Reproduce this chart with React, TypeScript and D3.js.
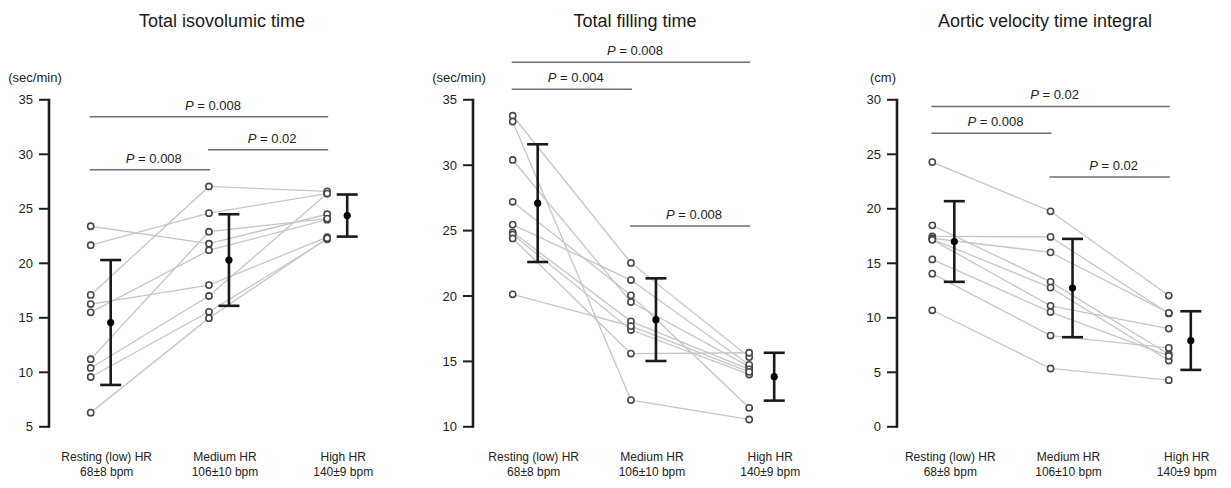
import React from "react";
import * as d3 from "d3";

// ---------- data ----------
const categories = ["Resting (low) HR", "Medium HR", "High HR"];
const categorySub = ["68±8 bpm", "106±10 bpm", "140±9 bpm"];

const panelTitles = ["Total isovolumic time", "Total filling time", "Aortic velocity time integral"];
const panelUnits = ["(sec/min)", "(sec/min)", "(cm)"];
const panelTicks = [
  [5, 10, 15, 20, 25, 30, 35],
  [10, 15, 20, 25, 30, 35],
  [0, 5, 10, 15, 20, 25, 30],
];
const panelDomains: [number, number][] = [[5, 35], [10, 35], [0, 30]];

// Total isovolumic time (per subject, resting / medium / high)
const isoResting = [23.4, 21.66, 17.1, 16.26, 15.5, 11.2, 10.4, 9.57, 6.3];
const isoMedium = [21.8, 24.6, 27.05, 18.0, 21.2, 22.9, 17.0, 15.55, 14.97];
const isoHigh = [24.5, 26.4, 26.6, 22.4, 24.0, 24.1, 26.4, 22.2, 22.3];
const isoMean = [14.57, 20.3, 24.38];
const isoSD = [5.73, 4.2, 1.93];

// Total filling time
const fillResting = [33.78, 33.34, 30.4, 27.2, 25.46, 24.87, 24.7, 24.4, 20.13];
const fillMedium = [22.53, 12.04, 19.54, 20.05, 21.22, 18.06, 17.4, 15.6, 17.7];
const fillHigh = [15.33, 10.56, 14.6, 11.45, 14.74, 14.39, 14.0, 15.66, 14.2];
const fillMean = [27.1, 18.19, 13.83];
const fillSD = [4.5, 3.16, 1.83];

// Aortic velocity time integral
const vtiResting = [24.29, 18.48, 17.47, 17.3, 17.2, 17.15, 15.36, 14.05, 10.69];
const vtiMedium = [19.77, 13.3, 17.42, 16.0, 12.77, 11.1, 10.53, 8.37, 5.35];
const vtiHigh = [12.04, 6.66, 10.4, 10.45, 6.08, 9.01, 6.5, 7.24, 4.28];
const vtiMean = [17.0, 12.73, 7.91];
const vtiSD = [3.7, 4.51, 2.69];

// significance brackets: [from group, to group, p label, level in data units]
const isoBrackets: [number, number, string, number][] = [
  [0, 2, "0.008", 33.44],
  [1, 2, "0.02", 30.41],
  [0, 1, "0.008", 28.58],
];
const fillBrackets: [number, number, string, number][] = [
  [0, 2, "0.008", 37.88],
  [0, 1, "0.004", 35.8],
  [1, 2, "0.008", 25.36],
];
const vtiBrackets: [number, number, string, number][] = [
  [0, 2, "0.02", 29.39],
  [0, 1, "0.008", 26.94],
  [1, 2, "0.02", 22.91],
];

const panelSeries = [
  [isoResting, isoMedium, isoHigh],
  [fillResting, fillMedium, fillHigh],
  [vtiResting, vtiMedium, vtiHigh],
];
const panelMeans = [isoMean, fillMean, vtiMean];
const panelSDs = [isoSD, fillSD, vtiSD];
const panelBrackets = [isoBrackets, fillBrackets, vtiBrackets];

// ---------- layout ----------
const W = 1231;
const H = 488;
const layout = [
  { axisX: 49, g0: 90.7, meanOff: 20, titleX: 222 },
  { axisX: 473, g0: 512.7, meanOff: 25, titleX: 635 },
  { axisX: 897, g0: 932.3, meanOff: 22, titleX: 1045 },
];
const groupSpan = 236.5;
const yTop = 99.8;
const yBottom = 426.8;
const FONT = "'Liberation Sans', Arial, Helvetica, sans-serif";

function Panel({ idx }: { idx: number }) {
  const L = layout[idx];
  const y = d3.scaleLinear().domain(panelDomains[idx]).range([yBottom, yTop]);
  const x = d3
    .scalePoint<number>()
    .domain([0, 1, 2])
    .range([L.g0, L.g0 + groupSpan]);
  const series = panelSeries[idx];
  const means = panelMeans[idx];
  const sds = panelSDs[idx];
  const nSub = series[0].length;
  const lineGen = d3
    .line<[number, number]>()
    .x((d) => d[0])
    .y((d) => d[1]);

  const subjects = d3.range(nSub).map((s) =>
    [0, 1, 2].map((g) => [x(g) as number, y(series[g][s])] as [number, number])
  );

  return (
    <g>
      {/* title */}
      <text x={L.titleX} y={27} textAnchor="middle" fontSize={18} fill="#1a1a1a" fontFamily={FONT}>
        {panelTitles[idx]}
      </text>
      {/* unit */}
      <text x={L.axisX - 14} y={82} textAnchor="middle" fontSize={13} fill="#222" fontFamily={FONT}>
        {panelUnits[idx]}
      </text>
      {/* axis */}
      <line x1={L.axisX} x2={L.axisX} y1={y(panelDomains[idx][1]) - 1} y2={y(panelDomains[idx][0]) + 1} stroke="#1e1e1e" strokeWidth={2.6} />
      {panelTicks[idx].map((t) => (
        <g key={t}>
          <line x1={L.axisX - 10} x2={L.axisX} y1={y(t)} y2={y(t)} stroke="#1e1e1e" strokeWidth={2} />
          <text x={L.axisX - 16} y={y(t) + 4.5} textAnchor="end" fontSize={13} fill="#222" fontFamily={FONT}>
            {t}
          </text>
        </g>
      ))}
      {/* subject lines */}
      {subjects.map((pts, i) => (
        <path key={i} d={lineGen(pts) || ""} fill="none" stroke="#c6c6c6" strokeWidth={1.3} />
      ))}
      {/* points */}
      {subjects.map((pts, i) =>
        pts.map((p, g) => (
          <circle key={i + "-" + g} cx={p[0]} cy={p[1]} r={3.1} fill="#fff" stroke="#474747" strokeWidth={1.6} />
        ))
      )}
      {/* mean ± SD */}
      {means.map((m, g) => {
        const cx = (x(g) as number) + L.meanOff;
        const yt = y(m + sds[g]);
        const yb = y(m - sds[g]);
        return (
          <g key={"m" + g}>
            <line x1={cx} x2={cx} y1={yt} y2={yb} stroke="#1a1a1a" strokeWidth={2.6} />
            <line x1={cx - 10.5} x2={cx + 10.5} y1={yt} y2={yt} stroke="#1a1a1a" strokeWidth={2.6} />
            <line x1={cx - 10.5} x2={cx + 10.5} y1={yb} y2={yb} stroke="#1a1a1a" strokeWidth={2.6} />
            <circle cx={cx} cy={y(m)} r={3.6} fill="#000" />
          </g>
        );
      })}
      {/* brackets */}
      {panelBrackets[idx].map(([a, b, p, lvl], i) => {
        const x1 = x(a) as number;
        const x2 = x(b) as number;
        const ly = y(lvl);
        return (
          <g key={"b" + i}>
            <line x1={x1 - 1} x2={x2 + 1} y1={ly} y2={ly} stroke="#6e6e6e" strokeWidth={1.5} />
            <text x={(x1 + x2) / 2 + 4} y={ly - 7} textAnchor="middle" fontSize={13} fill="#222" fontFamily={FONT}>
              <tspan fontStyle="italic">P</tspan>
              {" = " + p}
            </text>
          </g>
        );
      })}
      {/* category labels */}
      {categories.map((c, g) => {
        const cx = (x(g) as number) + L.meanOff - 4;
        return (
          <text key={"c" + g} x={cx} textAnchor="middle" fontSize={12} fill="#222" fontFamily={FONT}>
            <tspan x={cx} y={461}>{c}</tspan>
            <tspan x={cx} y={476}>{categorySub[g]}</tspan>
          </text>
        );
      })}
    </g>
  );
}

export default function App() {
  return (
    <svg
      width={W}
      height={H}
      viewBox={`0 0 ${W} ${H}`}
      style={{ position: "absolute", left: 0, top: 0, background: "#fff" }}
    >
      <rect x={0} y={0} width={W} height={H} fill="#fff" />
      {[0, 1, 2].map((i) => (
        <Panel key={i} idx={i} />
      ))}
    </svg>
  );
}
